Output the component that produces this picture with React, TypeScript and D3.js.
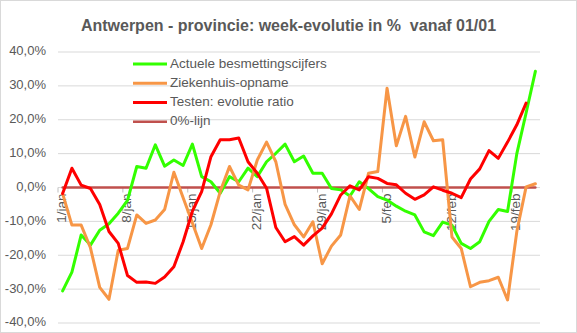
import React from "react";
import * as d3 from "d3";

const title = "Antwerpen - provincie: week-evolutie in %  vanaf 01/01";

const janDays = d3.range(1, 32).map((d) => `${d}/jan`);
const febDays = d3.range(1, 22).map((d) => `${d}/feb`);
const categories = [...janDays, ...febDays];

const yTicks = [-40, -30, -20, -10, 0, 10, 20, 30, 40];

const seriesNames = [
  "Actuele besmettingscijfers",
  "Ziekenhuis-opname",
  "Testen: evolutie ratio",
  "0%-lijn",
];
const seriesColors = ["#33FF00", "#F79646", "#FF0000", "#C0504D"];

const besmettingen = [
  -30.5, -25, -14, -17, -12.6, -10.7, -7.6, -3.8, 6.2, 5.7, 12.6, 6.3, 8.1,
  6.5, 12.8, 3.2, 1.7, -1.7, 3.2, 1.7, 5.7, 3.2, 7.6, 10.1, 12.8, 7.6, 9.3,
  4.2, 4.2, -0.3, -0.7, -2.5, 1.7, -0.3, -2.7, -3.7, -5.5, -7, -8.1, -13.1,
  -14.2, -10.2, -11.1, -16.5, -18, -16, -10, -6.5, -7.1, 10, 22, 34.3,
];

const ziekenhuis = [
  -1.8, -11.1, -11.1, -17.8, -29.5, -33, -18.5, -18, -8.1, -10.6, -9.6, -6.5,
  4.5, -3, -10.5, -18, -11, -1.2, 6.2, 0.7, -0.7, 8.1, 13.4, 7.6, -5, -11,
  -14.6, -10.1, -22.5, -17.3, -14, -2.5, -6.5, 4.2, 4.7, 29.3, 12.3, 21, 9,
  19.4, 13.8, 14.1, -14.6, -18, -29.3, -28, -27.5, -26.5, -33.2, -13, 0.2, 1.1,
];

const testen: (number | null)[] = [
  -1.8, 5.7, 0.7, -0.3, -5, -13, -16.5, -26, -28, -27.9, -28.3, -26.4, -23.4,
  -16, -7, -1.2, 9.1, 14.1, 14.1, 14.6, 7.6, 4.2, -0.2, -11.8, -16, -14.5, -17,
  -14.3, -12, -7.8, -2.2, 0.5, -0.7, 3.2, 2.7, 1.2, 0.8, -1.7, -3.5, -2.2, 0.2,
  -0.8, -1.7, -3, 2.5, 5.5, 10.9, 8.6, 13.4, 18.5, 24.9, null,
];

const nullLijn = categories.map(() => 0);

const W = 577;
const H = 333;
const plotLeft = 58;
const plotRight = 540;
const plotTop = 52;
const plotBottom = 323;

export default function App() {
  const x = d3
    .scalePoint<string>()
    .domain(categories)
    .range([plotLeft, plotRight])
    .padding(0.5);
  const step = x.step();
  const y = d3.scaleLinear().domain([-40, 40]).range([plotBottom, plotTop]);

  const line = d3
    .line<number | null>()
    .defined((d) => d !== null)
    .x((_, i) => x(categories[i]) as number)
    .y((d) => y(d as number));

  const seriesData = [nullLijn, besmettingen, ziekenhuis, testen];
  const seriesColorOrder = [seriesColors[3], seriesColors[0], seriesColors[1], seriesColors[2]];
  const seriesWidth = [2.5, 3, 3, 3];

  const font = "'Liberation Sans', Arial, sans-serif";
  const textColor = "#595959";
  const fmt = (v: number) => `${v.toFixed(1).replace(".", ",")}%`;
  const y0 = y(0);

  const labelIdx = categories.map((_, i) => i).filter((i) => i % 7 === 0);

  const legendY = [64, 83.3, 102.6, 121.8];

  return (
    <svg
      width={W}
      height={H}
      style={{ position: "absolute", left: 0, top: 0, background: "#fff" }}
      fontFamily={font}
    >
      <rect x={0.5} y={0.5} width={W - 1} height={H - 1} fill="#fff" stroke="#D9D9D9" />
      <text
        x={W / 2}
        y={27}
        textAnchor="middle"
        dominantBaseline="middle"
        fontWeight="bold"
        fontSize={16}
        fill={textColor}
        style={{ whiteSpace: "pre" }}
      >
        {title}
      </text>

      {yTicks.map((t) => (
        <g key={t}>
          <line x1={plotLeft} x2={plotRight} y1={y(t)} y2={y(t)} stroke="#D9D9D9" strokeWidth={1} />
          <text
            x={46}
            y={y(t)}
            textAnchor="end"
            dominantBaseline="middle"
            fontSize={13}
            fill={textColor}
          >
            {fmt(t)}
          </text>
        </g>
      ))}

      {labelIdx.map((i) => {
        const bx = (x(categories[i]) as number) - step / 2;
        return (
          <line key={"t" + i} x1={bx} x2={bx} y1={y0} y2={y0 + 5} stroke="#BFBFBF" strokeWidth={1} />
        );
      })}

      {labelIdx.map((i) => {
        const cx = x(categories[i]) as number;
        return (
          <text
            key={"l" + i}
            transform={`translate(${cx},${y0 + 6}) rotate(-90)`}
            textAnchor="end"
            dominantBaseline="middle"
            fontSize={13.5}
            fill={textColor}
          >
            {categories[i]}
          </text>
        );
      })}

      {seriesData.map((d, k) => (
        <path
          key={"s" + k}
          d={line(d) || ""}
          fill="none"
          stroke={seriesColorOrder[k]}
          strokeWidth={seriesWidth[k]}
          strokeLinejoin="round"
          strokeLinecap="round"
        />
      ))}

      {seriesNames.map((name, k) => (
        <g key={"lg" + k}>
          <line
            x1={133}
            x2={167}
            y1={legendY[k]}
            y2={legendY[k]}
            stroke={seriesColors[k]}
            strokeWidth={k === 3 ? 2.5 : 3}
          />
          <text
            x={170}
            y={legendY[k]}
            dominantBaseline="middle"
            fontSize={13.5}
            fill={textColor}
          >
            {name}
          </text>
        </g>
      ))}
    </svg>
  );
}
